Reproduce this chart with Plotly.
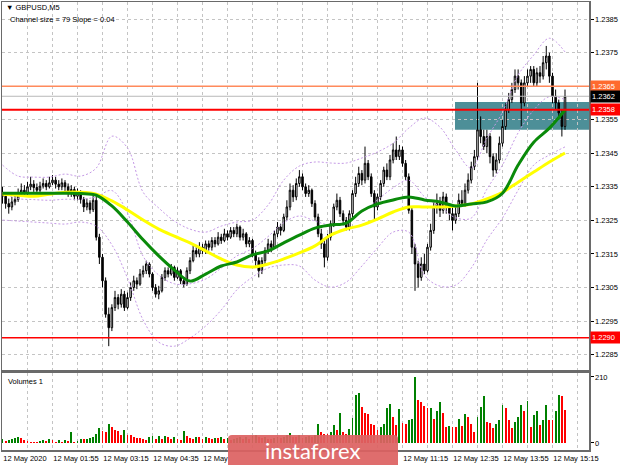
import plotly.graph_objects as go

# ---------------- data ----------------
symbol_text = "\u25bc GBPUSD,M5"
channel_text = "Channel size = 79 Slope = 0.04"

first_open = 1.23330
closes = [
    1.23322, 1.23300, 1.23290, 1.23305, 1.23312, 1.23330, 1.23340, 1.23332, 1.23350, 1.23358,
    1.23348, 1.23340, 1.23352, 1.23360, 1.23350, 1.23362, 1.23370, 1.23358, 1.23350, 1.23362,
    1.23350, 1.23332, 1.23342, 1.23322, 1.23330, 1.23312, 1.23290, 1.23302, 1.23282, 1.23310,
    1.23200, 1.23140, 1.23070, 1.22970, 1.22930, 1.22990, 1.23020, 1.23000, 1.23030, 1.22990,
    1.23020, 1.23050, 1.23070, 1.23060, 1.23090, 1.23100, 1.23120, 1.23090, 1.23050, 1.23030,
    1.23040, 1.23080, 1.23100, 1.23090, 1.23110, 1.23080, 1.23100, 1.23070, 1.23060, 1.23100,
    1.23130, 1.23160, 1.23150, 1.23170, 1.23160, 1.23180, 1.23170, 1.23190, 1.23180, 1.23200,
    1.23190, 1.23210, 1.23200, 1.23220, 1.23210, 1.23230, 1.23200, 1.23210, 1.23180, 1.23190,
    1.23150, 1.23130, 1.23100, 1.23130, 1.23160, 1.23180, 1.23170, 1.23210, 1.23230, 1.23220,
    1.23260, 1.23290, 1.23340, 1.23320, 1.23360, 1.23380, 1.23350, 1.23330, 1.23340, 1.23300,
    1.23260, 1.23210, 1.23180, 1.23140, 1.23200, 1.23240, 1.23290, 1.23310, 1.23270, 1.23250,
    1.23230, 1.23270, 1.23330, 1.23360, 1.23390, 1.23370, 1.23420, 1.23380, 1.23330, 1.23290,
    1.23320, 1.23360, 1.23400, 1.23380, 1.23430, 1.23460, 1.23440, 1.23460, 1.23420, 1.23380,
    1.23280, 1.23170, 1.23120, 1.23080, 1.23120, 1.23100, 1.23170, 1.23220, 1.23290, 1.23300,
    1.23280, 1.23320, 1.23290, 1.23270, 1.23250, 1.23270, 1.23310, 1.23300, 1.23340, 1.23370,
    1.23410, 1.23440, 1.23520, 1.23500, 1.23470, 1.23500, 1.23440, 1.23400, 1.23430, 1.23480,
    1.23530, 1.23580, 1.23610, 1.23640, 1.23680, 1.23660, 1.23600, 1.23660, 1.23680, 1.23700,
    1.23660, 1.23690, 1.23680, 1.23720, 1.23740, 1.23680, 1.23620, 1.23600, 1.23570, 1.23530,
    1.23620,
]
highs = [
    1.23350, 1.23330, 1.23315, 1.23320, 1.23330, 1.23345, 1.23360, 1.23355, 1.23365, 1.23380,
    1.23370, 1.23360, 1.23365, 1.23375, 1.23370, 1.23380, 1.23385, 1.23380, 1.23370, 1.23375,
    1.23370, 1.23360, 1.23355, 1.23350, 1.23345, 1.23340, 1.23320, 1.23315, 1.23310, 1.23325,
    1.23320, 1.23210, 1.23150, 1.23080, 1.22990, 1.23000, 1.23040, 1.23030, 1.23045, 1.23040,
    1.23035, 1.23065, 1.23085, 1.23080, 1.23105, 1.23115, 1.23130, 1.23125, 1.23095, 1.23060,
    1.23055, 1.23090, 1.23110, 1.23110, 1.23120, 1.23115, 1.23110, 1.23105, 1.23080, 1.23110,
    1.23140, 1.23175, 1.23170, 1.23185, 1.23180, 1.23190, 1.23190, 1.23200, 1.23200, 1.23215,
    1.23210, 1.23225, 1.23220, 1.23230, 1.23230, 1.23240, 1.23235, 1.23225, 1.23215, 1.23200,
    1.23195, 1.23160, 1.23140, 1.23140, 1.23170, 1.23195, 1.23190, 1.23220, 1.23245, 1.23240,
    1.23270, 1.23310, 1.23360, 1.23355, 1.23375, 1.23400, 1.23390, 1.23360, 1.23355, 1.23345,
    1.23310, 1.23270, 1.23225, 1.23190, 1.23210, 1.23250, 1.23300, 1.23330, 1.23320, 1.23280,
    1.23260, 1.23280, 1.23340, 1.23380, 1.23410, 1.23400, 1.23470, 1.23430, 1.23390, 1.23340,
    1.23330, 1.23370, 1.23410, 1.23420, 1.23445, 1.23480, 1.23500, 1.23475, 1.23470, 1.23430,
    1.23390, 1.23290, 1.23180, 1.23130, 1.23140, 1.23150, 1.23180, 1.23240, 1.23310, 1.23330,
    1.23320, 1.23335, 1.23330, 1.23300, 1.23290, 1.23290, 1.23330, 1.23340, 1.23360, 1.23390,
    1.23425, 1.23460, 1.23660, 1.23560, 1.23520, 1.23520, 1.23510, 1.23450, 1.23450, 1.23500,
    1.23550, 1.23600, 1.23630, 1.23660, 1.23700, 1.23700, 1.23670, 1.23680, 1.23700, 1.23710,
    1.23710, 1.23705, 1.23710, 1.23740, 1.23770, 1.23750, 1.23690, 1.23640, 1.23610, 1.23580,
    1.23640,
]
lows = [
    1.23300, 1.23285, 1.23270, 1.23280, 1.23295, 1.23305, 1.23320, 1.23320, 1.23325, 1.23340,
    1.23335, 1.23330, 1.23330, 1.23345, 1.23340, 1.23345, 1.23355, 1.23345, 1.23340, 1.23340,
    1.23335, 1.23320, 1.23320, 1.23310, 1.23310, 1.23300, 1.23275, 1.23280, 1.23270, 1.23275,
    1.23190, 1.23120, 1.23050, 1.22960, 1.22875, 1.22920, 1.22980, 1.22985, 1.22990, 1.22980,
    1.22985, 1.23010, 1.23040, 1.23045, 1.23055, 1.23080, 1.23090, 1.23080, 1.23040, 1.23020,
    1.23015, 1.23035, 1.23070, 1.23080, 1.23085, 1.23070, 1.23075, 1.23060, 1.23050, 1.23055,
    1.23090, 1.23125, 1.23140, 1.23140, 1.23150, 1.23150, 1.23160, 1.23160, 1.23170, 1.23175,
    1.23180, 1.23185, 1.23190, 1.23195, 1.23200, 1.23200, 1.23190, 1.23190, 1.23170, 1.23170,
    1.23140, 1.23110, 1.23080, 1.23090, 1.23120, 1.23150, 1.23155, 1.23165, 1.23200, 1.23205,
    1.23215, 1.23250, 1.23280, 1.23305, 1.23310, 1.23350, 1.23340, 1.23320, 1.23320, 1.23290,
    1.23250, 1.23200, 1.23165, 1.23110, 1.23130, 1.23190, 1.23230, 1.23280, 1.23260, 1.23235,
    1.23220, 1.23220, 1.23260, 1.23320, 1.23350, 1.23355, 1.23360, 1.23370, 1.23320, 1.23250,
    1.23280, 1.23310, 1.23350, 1.23370, 1.23370, 1.23420, 1.23430, 1.23430, 1.23410, 1.23370,
    1.23270, 1.23150, 1.23040, 1.23050, 1.23070, 1.23090, 1.23095, 1.23160, 1.23210, 1.23270,
    1.23260, 1.23270, 1.23270, 1.23250, 1.23220, 1.23240, 1.23260, 1.23290, 1.23290, 1.23330,
    1.23360, 1.23400, 1.23430, 1.23480, 1.23460, 1.23450, 1.23420, 1.23380, 1.23390, 1.23420,
    1.23470, 1.23520, 1.23570, 1.23600, 1.23630, 1.23640, 1.23530, 1.23590, 1.23650, 1.23660,
    1.23650, 1.23650, 1.23660, 1.23670, 1.23700, 1.23660, 1.23600, 1.23580, 1.23550, 1.23500,
    1.23520,
]
volumes = [
    12, 5, 8, 14, 17, 20, 15, 9, 6, 4, 3, 3, 6, 10, 7, 12, 10,
    4, 10, 4, 10, 6, 36, 4, 7, 12, 12, 14, 17, 18, 30, 49, 37, 34, 60, 50, 42,
    37, 27, 40, 27, 27, 20, 17, 17, 14, 10, 20, 22, 12, 22, 12, 22, 19, 12, 19, 12,
    10, 37, 22, 17, 12, 20, 20, 14, 20, 17, 12, 17, 16, 20, 12, 15, 10, 14,
    15, 20, 12, 18, 14, 22, 25, 20, 16, 18, 14, 12, 16, 20, 15, 18, 24,
    32, 20, 18, 24, 16, 20, 22, 18,
    26, 60, 34, 30, 28, 35, 57, 42, 95, 34, 30, 45, 80, 154, 159, 114, 97, 92, 60, 57,
    42, 52, 62, 110, 125, 82, 57,
    107, 64, 60, 72, 75, 210, 137, 132, 117, 110, 112, 77, 102, 132, 97, 50, 54, 52, 50, 77,
    54, 92, 84, 62, 34, 84, 114, 150, 67, 65, 47, 60, 74, 120, 110, 74, 47, 67, 82, 120,
    102, 134, 50, 90, 102, 57, 74, 120, 74, 72, 102, 152, 150, 104,
]

# indicator lines, sampled every 5 bars
ind_step = 5
ma_green = [
    1.23331, 1.23331, 1.23331, 1.23331, 1.23331, 1.23330, 1.23325, 1.23293, 1.23245, 1.23192,
    1.23144, 1.23102, 1.23069, 1.23090, 1.23114, 1.23126, 1.23147, 1.23159, 1.23183, 1.23206,
    1.23227, 1.23236, 1.23242, 1.23278, 1.23299, 1.23311, 1.23320, 1.23311, 1.23305, 1.23293,
    1.23299, 1.23305, 1.23331, 1.23415, 1.23483, 1.23525, 1.23579,
]
ma_yellow = [
    1.23328, 1.23325, 1.23322, 1.23328, 1.23334, 1.23334, 1.23328, 1.23308, 1.23281, 1.23251,
    1.23224, 1.23203, 1.23183, 1.23159, 1.23135, 1.23117, 1.23111, 1.23120, 1.23135, 1.23153,
    1.23174, 1.23206, 1.23224, 1.23236, 1.23254, 1.23275, 1.23290, 1.23290, 1.23290, 1.23293,
    1.23299, 1.23314, 1.23334, 1.23364, 1.23394, 1.23424, 1.23451,
]
bb_upper = [
    1.23415, 1.23382, 1.23379, 1.23379, 1.23388, 1.23382, 1.23406, 1.23501, 1.23466, 1.23334,
    1.23287, 1.23248, 1.23224, 1.23215, 1.23233, 1.23245, 1.23251, 1.23296, 1.23370, 1.23412,
    1.23424, 1.23421, 1.23421, 1.23436, 1.23454, 1.23480, 1.23525, 1.23555, 1.23528, 1.23460,
    1.23406, 1.23495, 1.23573, 1.23683, 1.23743, 1.23793, 1.23752,
]
bb_lower = [
    1.23251, 1.23248, 1.23245, 1.23242, 1.23239, 1.23245, 1.23233, 1.23177, 1.23078, 1.22953,
    1.22887, 1.22875, 1.22899, 1.22935, 1.22983, 1.23043, 1.23081, 1.23108, 1.23117, 1.23114,
    1.23072, 1.23051, 1.23066, 1.23114, 1.23168, 1.23215, 1.23215, 1.23087, 1.23054, 1.23057,
    1.23108, 1.23192, 1.23257, 1.23340, 1.23415, 1.23445, 1.23469,
]
bb_middle = [
    1.23333, 1.23315, 1.23312, 1.23310, 1.23313, 1.23313, 1.23320, 1.23339, 1.23272, 1.23143,
    1.23087, 1.23061, 1.23061, 1.23075, 1.23108, 1.23144, 1.23166, 1.23202, 1.23243, 1.23263,
    1.23248, 1.23236, 1.23243, 1.23275, 1.23311, 1.23347, 1.23370, 1.23321, 1.23291, 1.23258,
    1.23257, 1.23343, 1.23415, 1.23511, 1.23579, 1.23619, 1.23610,
]

# horizontal levels and zone
level_orange = 1.2365
level_bid = 1.2362
level_red_hi = 1.2358
level_red_lo = 1.2290
zone_low = 1.23520
zone_high = 1.23603
zone_start_bar = 144.8

price_ticks = [1.2285, 1.2295, 1.2305, 1.2315, 1.2325, 1.2335, 1.2345, 1.2355, 1.2365, 1.2375, 1.2385]
vol_ticks = [0, 210]
time_tick_bars = [0, 16, 32, 48, 64, 128, 144, 160, 176]
time_tick_labels = ["12 May 2020", "12 May 01:55", "12 May 03:15", "12 May 04:35", "12 May",
                    "12 May 11:15", "12 May 12:35", "12 May 13:55", "12 May 15:15"]

# ---------------- figure ----------------
W, H = 620, 465
ML, MR, MT, MB = 2, 31, 2, 15
PW, PH = W - ML - MR, H - MT - MB

def px_x(px):
    return (px - ML) / PW

def px_y(py):
    return (H - MB - py) / PH

n = len(closes)
bars = list(range(n))
opens = [first_open] + closes[:-1]
ind_x = list(range(0, n, ind_step))

vol_colors = ['#008000'] + ['#008000' if volumes[k] > volumes[k - 1] else '#ff0000' for k in range(1, n)]

FONT = "Liberation Sans, Arial, sans-serif"
GRID = '#c4c4c4'
FRAME = '#6a6a6a'

x_range = [-0.16, -0.16 + PW / 3.125]

fig = go.Figure()

fig.add_trace(go.Candlestick(
    x=bars, open=opens, high=highs, low=lows, close=closes,
    increasing=dict(line=dict(color='#000000', width=1), fillcolor='#ffffff'),
    decreasing=dict(line=dict(color='#000000', width=1), fillcolor='#000000'),
    whiskerwidth=0, hoverinfo='skip', showlegend=False, xaxis='x', yaxis='y'))

band_style = dict(color='#c59ae6', width=1, dash='2px,2px')
for band in (bb_upper, bb_middle, bb_lower):
    fig.add_trace(go.Scatter(x=ind_x, y=band, mode='lines', line=band_style,
                             line_shape='spline', hoverinfo='skip', showlegend=False))

fig.add_trace(go.Scatter(x=ind_x, y=ma_yellow, mode='lines', line_shape='spline',
                         line=dict(color='#ffff00', width=3), hoverinfo='skip', showlegend=False))
fig.add_trace(go.Scatter(x=ind_x, y=ma_green, mode='lines', line_shape='spline',
                         line=dict(color='#0a8a0a', width=3), hoverinfo='skip', showlegend=False))

fig.add_trace(go.Bar(x=bars, y=volumes, marker=dict(color=vol_colors, line=dict(width=0)),
                     width=0.62, xaxis='x2', yaxis='y2', hoverinfo='skip', showlegend=False))

shapes = [
    dict(type='rect', xref='x', yref='y', x0=zone_start_bar, x1=x_range[1], y0=zone_low, y1=zone_high,
         fillcolor='rgba(62,134,143,0.92)', line=dict(width=0), layer='below'),
    dict(type='line', xref='paper', yref='y', x0=0, x1=1, y0=level_bid, y1=level_bid,
         line=dict(color='#b8b8b8', width=1), layer='above'),
    dict(type='line', xref='paper', yref='y', x0=0, x1=1, y0=level_orange, y1=level_orange,
         line=dict(color='#ff8a5c', width=1.5), layer='above'),
    dict(type='line', xref='paper', yref='y', x0=0, x1=1, y0=level_red_hi, y1=level_red_hi,
         line=dict(color='#ff0000', width=2), layer='above'),
    dict(type='line', xref='paper', yref='y', x0=0, x1=1, y0=level_red_lo, y1=level_red_lo,
         line=dict(color='#ff0000', width=1.5), layer='above'),
]

# instaforex watermark box
lx0, lx1, ly0, ly1 = px_x(228), px_x(398), px_y(466), px_y(435)
rx, ry = 4 / PW, 4 / PH
logo_path = (f"M {lx0+rx},{ly1} L {lx1-rx},{ly1} Q {lx1},{ly1} {lx1},{ly1-ry} "
             f"L {lx1},{ly0} L {lx0},{ly0} L {lx0},{ly1-ry} Q {lx0},{ly1} {lx0+rx},{ly1} Z")
shapes.append(dict(type='path', xref='paper', yref='paper', path=logo_path,
                   fillcolor='rgba(221,98,98,0.93)', line=dict(width=0), layer='above'))

annotations = [
    dict(x=px_x(4), y=px_y(8), xref='paper', yref='paper', text=symbol_text, showarrow=False,
         xanchor='left', yanchor='middle', font=dict(family=FONT, size=7.5, color='#000')),
    dict(x=px_x(8), y=px_y(19), xref='paper', yref='paper', text=channel_text, showarrow=False,
         xanchor='left', yanchor='middle', font=dict(family=FONT, size=7.5, color='#000')),
    dict(x=px_x(6), y=px_y(381), xref='paper', yref='paper', text="Volumes 1", showarrow=False,
         xanchor='left', yanchor='middle', font=dict(family=FONT, size=7.5, color='#000')),
    dict(x=0.5298, y=px_y(450), xref='paper', yref='paper', text="instaforex", showarrow=False,
         xanchor='center', yanchor='middle', font=dict(family="Lato, Open Sans, sans-serif", size=22, color='#ffffff')),
]
label_levels = ((level_orange, '#ff6a2e'), (level_bid, '#000000'), (level_red_hi, '#ff0000'), (level_red_lo, '#ff0000'))
for val, bg in label_levels:
    annotations.append(dict(x=1, y=val, xref='paper', yref='y', text=f"{val:.4f}", showarrow=False,
                            xanchor='left', yanchor='middle', xshift=1, bgcolor=bg, borderpad=1,
                            width=27, align='left',
                            font=dict(family=FONT, size=7.5, color='#ffffff')))

covered = {round(v, 4) for v, _ in label_levels}
price_text = ['' if round(v, 4) in covered else f"{v:.4f}" for v in price_ticks]

grid_ticks = list(range(0, n + 8, 8))
grid_text = [time_tick_labels[time_tick_bars.index(t)] if t in time_tick_bars else '' for t in grid_ticks]

fig.update_layout(
    width=W, height=H, margin=dict(l=ML, r=MR, t=MT, b=MB, autoexpand=False),
    paper_bgcolor='#ffffff', plot_bgcolor='#ffffff',
    showlegend=False, bargap=0,
    xaxis=dict(domain=[0, 1], anchor='y', range=x_range, tickmode='array', tickvals=grid_ticks,
               showticklabels=False, ticks='', showgrid=True, gridcolor=GRID, griddash='3px,3px', gridwidth=1,
               showline=True, mirror=True, linecolor=FRAME, linewidth=1.5, zeroline=False,
               rangeslider=dict(visible=False)),
    yaxis=dict(domain=[px_y(370), 1], anchor='x', range=[1.22804, 1.23901], side='right',
               tickmode='array', tickvals=price_ticks, ticktext=price_text,
               ticks='outside', ticklen=3, tickcolor='#000', showgrid=True, gridcolor=GRID,
               griddash='3px,3px', gridwidth=1, showline=True, mirror=True, linecolor=FRAME,
               linewidth=1.5, zeroline=False, automargin=False,
               tickfont=dict(family=FONT, size=7.5, color='#000')),
    xaxis2=dict(domain=[0, 1], anchor='y2', range=x_range, tickmode='array', tickvals=grid_ticks,
                ticktext=grid_text, ticks='', ticklabelposition='outside right', tickangle=0,
                automargin=False, tickfont=dict(family=FONT, size=7.5, color='#000'),
                showgrid=True, gridcolor=GRID, griddash='3px,3px', gridwidth=1,
                showline=True, mirror=True, linecolor=FRAME, linewidth=1.5, zeroline=False),
    yaxis2=dict(domain=[0, px_y(373)], anchor='x2', range=[-22.3, 222.7], side='right',
                tickmode='array', tickvals=vol_ticks, ticktext=[str(v) for v in vol_ticks],
                ticks='outside', ticklen=3, tickcolor='#000', showgrid=False, automargin=False,
                showline=True, mirror=True, linecolor=FRAME, linewidth=1.5, zeroline=False,
                tickfont=dict(family=FONT, size=7.5, color='#000')),
    shapes=shapes, annotations=annotations,
)

fig.write_html("out.html", config={'displayModeBar': False, 'staticPlot': True},
               post_script="document.body.style.margin='0';document.body.style.padding='0';"
                           "document.body.style.overflow='hidden';")
